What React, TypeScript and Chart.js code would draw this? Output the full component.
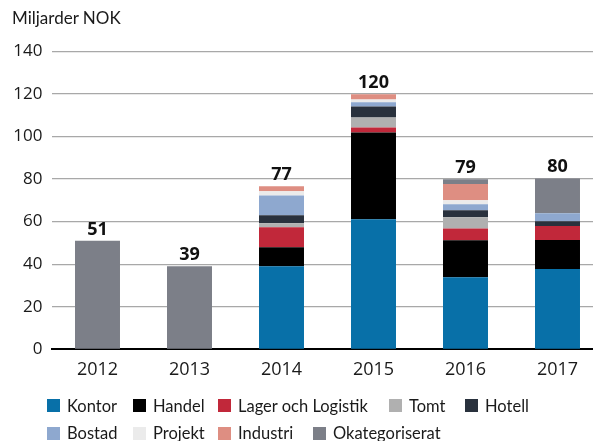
import React, { useEffect, useRef } from "react";
import { Chart, registerables } from "chart.js";

Chart.register(...registerables);

const categories = ["2012", "2013", "2014", "2015", "2016", "2017"];
const totalLabels = ["51", "39", "77", "120", "79", "80"];
const yTicks = [0, 20, 40, 60, 80, 100, 120, 140];

const kontor = [0, 0, 39, 61.1, 33.9, 37.7];
const handel = [0, 0, 9, 40.8, 17.3, 13.6];
const lager = [0, 0, 9.3, 2.3, 5.6, 6.6];
const tomt = [0, 0, 1.9, 4.7, 5.2, 0];
const hotell = [0, 0, 3.8, 5.2, 3.3, 2.3];
const bostad = [0, 0, 9.3, 2.0, 2.8, 3.7];
const projekt = [0, 0, 1.9, 1.2, 1.9, 0];
const industri = [0, 0, 2.4, 2.5, 7.6, 0];
const okategoriserat = [51, 39, 0, 0, 2.3, 16.4];

const seriesNames = [
  "Kontor",
  "Handel",
  "Lager och Logistik",
  "Tomt",
  "Hotell",
  "Bostad",
  "Projekt",
  "Industri",
  "Okategoriserat",
];
const seriesData = [kontor, handel, lager, tomt, hotell, bostad, projekt, industri, okategoriserat];
const seriesColors = [
  "#0870a8",
  "#000000",
  "#c1283a",
  "#b0b0b0",
  "#29313d",
  "#8ea8cf",
  "#ebebeb",
  "#de8e82",
  "#7c7f88",
];

// legend layout (style only)
const legendRows = [
  [0, 1, 2, 3, 4],
  [5, 6, 7, 8],
];
const legendLeft: Record<number, number> = {
  0: 47, 1: 133, 2: 218, 3: 389, 4: 465,
  5: 47, 6: 133, 7: 218, 8: 313,
};
const legendTop = [399, 426.5];

const FONT = "Lato, 'Open Sans', sans-serif";

export default function App() {
  const ref = useRef<HTMLCanvasElement | null>(null);

  useEffect(() => {
    document.body.style.margin = "0";
    const canvas = ref.current!;
    const totalsPlugin = {
      id: "totals",
      afterDatasetsDraw(chart: any) {
        const ctx = chart.ctx;
        const xs = chart.scales.x;
        const ys = chart.scales.y;
        ctx.save();
        ctx.font = "bold 18px 'Open Sans', sans-serif";
        ctx.fillStyle = "#111";
        ctx.textAlign = "center";
        ctx.textBaseline = "alphabetic";
        categories.forEach((_, i) => {
          let sum = 0;
          seriesData.forEach((s) => (sum += s[i]));
          const x = xs.getPixelForValue(i);
          const y = ys.getPixelForValue(sum);
          ctx.fillText(totalLabels[i], x, y - 6);
        });
        ctx.restore();
      },
    };
    const chart = new Chart(canvas, {
      type: "bar",
      data: {
        labels: categories,
        datasets: seriesNames.map((name, k) => ({
          label: name,
          data: seriesData[k],
          backgroundColor: seriesColors[k],
          borderWidth: 0,
          categoryPercentage: 1,
          barPercentage: 0.489,
        })),
      },
      options: {
        responsive: false,
        animation: false,
        layout: { padding: { top: 51.3, right: 6.5, left: 0, bottom: 0 } },
        plugins: {
          legend: { display: false },
          tooltip: { enabled: false },
        },
        scales: {
          x: {
            stacked: true,
            grid: { display: false, drawTicks: false },
            border: { display: true, color: "#000", width: 2 },
            ticks: {
              color: "#1a1a1a",
              font: { family: "'Open Sans', sans-serif", size: 18 },
              padding: 10,
            },
            afterFit: (s: any) => {
              s.height = 91.7;
            },
          },
          y: {
            stacked: true,
            min: 0,
            max: 140,
            afterBuildTicks: (s: any) => {
              s.ticks = yTicks.map((v) => ({ value: v }));
            },
            grid: {
              color: (c: any) => (c.tick && c.tick.value === 0 ? "rgba(0,0,0,0)" : "#a8a8a8"),
              lineWidth: 1.3,
              drawTicks: false,
            },
            border: { display: false },
            ticks: {
              color: "#1a1a1a",
              font: { family: "'Open Sans', sans-serif", size: 17 },
              padding: 9,
            },
            afterFit: (s: any) => {
              s.width = 51.5;
            },
          },
        },
      },
      plugins: [totalsPlugin],
    } as any);
    return () => chart.destroy();
  }, []);

  return (
    <div style={{ position: "relative", width: 593, height: 441, overflow: "hidden", background: "#fff" }}>
      <canvas ref={ref} width={610} height={441} style={{ position: "absolute", left: 0, top: 0 }} />
      <div
        style={{
          position: "absolute",
          left: 12,
          top: 8,
          fontFamily: FONT,
          fontSize: 17,
          color: "#1a1a1a",
          lineHeight: "20px",
        }}
      >
        Miljarder NOK
      </div>
      {legendRows.map((row, r) =>
        row.map((k) => (
          <div
            key={k}
            style={{
              position: "absolute",
              left: legendLeft[k],
              top: legendTop[r],
              display: "flex",
              alignItems: "center",
              height: 13,
              fontFamily: FONT,
              fontSize: 16.5,
              color: "#1a1a1a",
              whiteSpace: "nowrap",
            }}
          >
            <span style={{ display: "inline-block", width: 13, height: 13, background: seriesColors[k], marginRight: 7 }} />
            <span>{seriesNames[k]}</span>
          </div>
        ))
      )}
    </div>
  );
}
